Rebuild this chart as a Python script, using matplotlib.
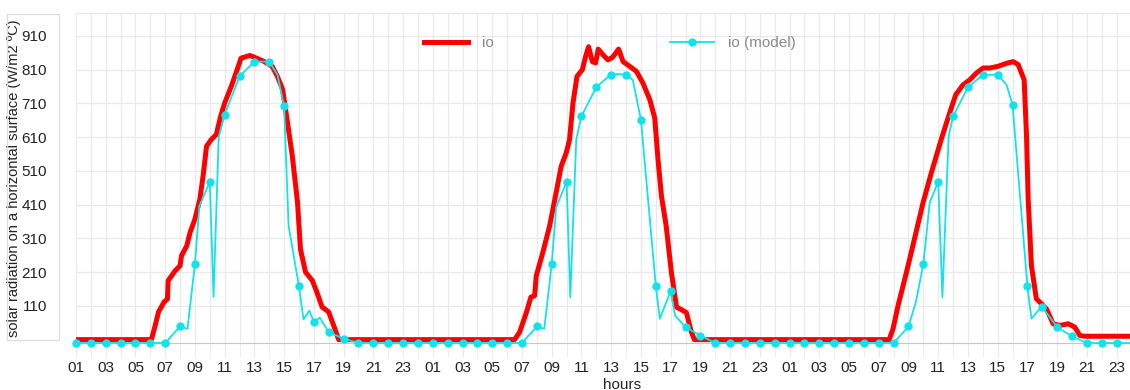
"""Measured vs modelled solar radiation on a horizontal surface over three days."""
import matplotlib
matplotlib.use("Agg")
import matplotlib.pyplot as plt
import numpy as np
from matplotlib.patches import Rectangle

plt.rcParams["font.family"] = ["Liberation Sans", "DejaVu Sans"]

# Measured radiation "io" (hours counted from 01:00 of day 1)
io_hours = [1, 6.07, 6.33, 6.55, 6.93, 7.15, 7.2, 7.67, 8.0, 8.1, 8.45, 8.67, 9.0, 9.33,
            9.55, 9.78, 10.1, 10.44, 10.73, 11.0, 11.44, 11.84, 12.1, 12.45, 12.7, 13.1,
            13.67, 14.2, 14.55, 14.9, 15.2, 15.55, 15.9, 16.1, 16.44, 16.9, 17.2, 17.55,
            18.0, 18.33, 18.67,
            30.5, 30.84, 31.3, 31.6, 31.85, 31.96, 32.4, 32.86, 33.3, 33.64, 33.98, 34.2,
            34.43, 34.7, 35.06, 35.28, 35.48, 35.73, 35.95, 36.13, 36.45, 36.78, 37.1, 37.5,
            37.8, 38.24, 38.7, 39.14, 39.6, 39.93, 40.15, 40.38, 40.7, 41.05, 41.4, 41.72,
            42.06, 42.4, 42.6,
            55.7, 55.96, 56.3, 56.86, 57.4, 57.98, 58.54, 59.2, 59.77, 60.18, 60.67, 61.12,
            61.57, 62.02, 62.47, 63.03, 63.6, 64.04, 64.38, 64.78, 64.94, 65.05, 65.27, 65.6,
            65.95, 66.28, 66.73, 67.18, 67.74, 68.19, 68.53, 68.87, 71.9]
io_values = [10, 10, 52, 92, 122, 130, 185, 214, 229, 259, 288, 327, 367, 426,
             495, 583, 603, 618, 672, 711, 760, 810, 844, 849, 852, 845,
             834, 820, 790, 751, 662, 554, 417, 278, 210, 185, 151, 107,
             92, 52, 10,
             10, 32, 91, 136, 140, 199, 268, 347, 446, 524, 564, 603,
             711, 790, 810, 849, 878, 834, 830, 871, 854, 839, 847, 871,
             834, 820, 805, 770, 721, 667, 544, 436, 347, 209, 106, 99,
             90, 32, 10,
             10, 42, 111, 209, 308, 416, 505, 603, 682, 736, 765, 780,
             800, 815, 815, 820, 829, 834, 825, 780, 613, 426, 229, 131,
             116, 101, 57, 52, 57, 47, 22, 20, 20]

# Model output; whole hours carry a marker
model_hours = [1, 2, 3, 4, 5, 6, 7, 8, 8.5, 9, 9.3, 10, 10.25, 10.6, 11, 12, 13, 14, 14.55,
               15, 15.3, 16, 16.3, 16.7, 17, 17.4, 18, 19, 20, 21, 22, 23, 24, 25, 26, 27,
               28, 29, 30, 31, 32, 32.5, 33, 33.3, 34, 34.25, 34.65, 35, 36, 36.67, 37, 37.5,
               38, 38.45, 39, 40, 40.27, 41, 41.3, 42, 43, 44, 45, 46, 47, 48, 49, 50, 51,
               52, 53, 54, 55, 56, 57, 57.5, 58, 58.43, 59, 59.28, 59.7, 60, 61, 62, 63,
               63.6, 64, 65, 65.27, 65.72, 66, 67, 68, 69, 70, 71, 71.9]
model_values = [0, 0, 0, 0, 0, 0, 0, 49, 42, 234, 406, 478, 137, 610, 677, 790, 834, 834, 795,
                701, 347, 168, 70, 96, 62, 75, 32, 13, 0, 0, 0, 0, 0, 0, 0, 0,
                0, 0, 0, 0, 49, 42, 234, 402, 478, 135, 603, 672, 758, 784, 795, 797,
                795, 780, 662, 170, 72, 153, 81, 47, 22, 0, 0, 0, 0, 0, 0, 0, 0,
                0, 0, 0, 0, 0, 49, 122, 234, 417, 478, 135, 613, 672, 758, 795, 795,
                765, 705, 168, 72, 96, 106, 47, 20, 0, 0, 0, 0]

tick_hours = list(range(1, 72, 2))
tick_labels = ["01", "03", "05", "07", "09", "11", "13", "15", "17", "19", "21", "23"] * 3
y_ticks = [110, 210, 310, 410, 510, 610, 710, 810, 910]

RED = "#ff0000"
CYAN = "#12e3ea"
GRID = "#e9e9e9"

fig = plt.figure(figsize=(11.3, 3.9), dpi=100)
ax = fig.add_axes([76 / 1130, 1 - 343 / 390, 1054 / 1130, 330 / 390])

ax.plot(io_hours, io_values, color=RED, linewidth=3.6, solid_joinstyle="round",
        label="io", zorder=3)

model_hours = np.array(model_hours)
marked = np.isclose(model_hours % 1, 0)
ax.plot(model_hours, model_values, color=CYAN, linewidth=1.3, marker="o",
        markersize=5, markevery=list(np.where(marked)[0]), label="io (model)",
        clip_on=False, zorder=4)

ax.set_xlim(1, 71.9)
ax.set_ylim(0, 978)
ax.set_xticks(tick_hours)
ax.set_xticklabels(tick_labels)
ax.set_xticks(range(2, 72, 2), minor=True)
ax.set_yticks(y_ticks)

ax.grid(True, which="both", color=GRID, linewidth=0.9)
ax.set_axisbelow(True)
ax.tick_params(axis="x", which="both", length=10, color=GRID, labelsize=11,
               labelcolor="#222222", pad=3)
ax.tick_params(axis="y", length=0, labelsize=11, labelcolor="#222222", pad=21)

for side in ["left", "right"]:
    ax.spines[side].set_visible(False)
ax.spines["top"].set_color(GRID)
ax.spines["bottom"].set_color("#c8c8c8")

ax.set_xlabel("hours", fontsize=11, color="#222222")
ax.xaxis.set_label_coords(0.518, -0.105)
ax.set_ylabel("solar radiation on a horizontal surface (W/m2 ºC)", fontsize=10.5,
              color="#222222")
ax.yaxis.set_label_coords(-0.052, 0.5)

# box around the y-axis labels
fig.patches.append(Rectangle((7 / 1130, 1 - 340 / 390), 52 / 1130, 326 / 390,
                             transform=fig.transFigure, fill=False,
                             edgecolor="#dddddd", linewidth=0.9))

ax.legend(loc="upper left", bbox_to_anchor=(424 / 1130, 1 - 36 / 390),
          bbox_transform=fig.transFigure, ncol=2, frameon=False, fontsize=11,
          labelcolor="#8a8a8a", handlelength=2.9, handletextpad=0.9,
          columnspacing=11.5, borderpad=0, borderaxespad=0)

fig.savefig("out.png", dpi=100)
plt.close(fig)
